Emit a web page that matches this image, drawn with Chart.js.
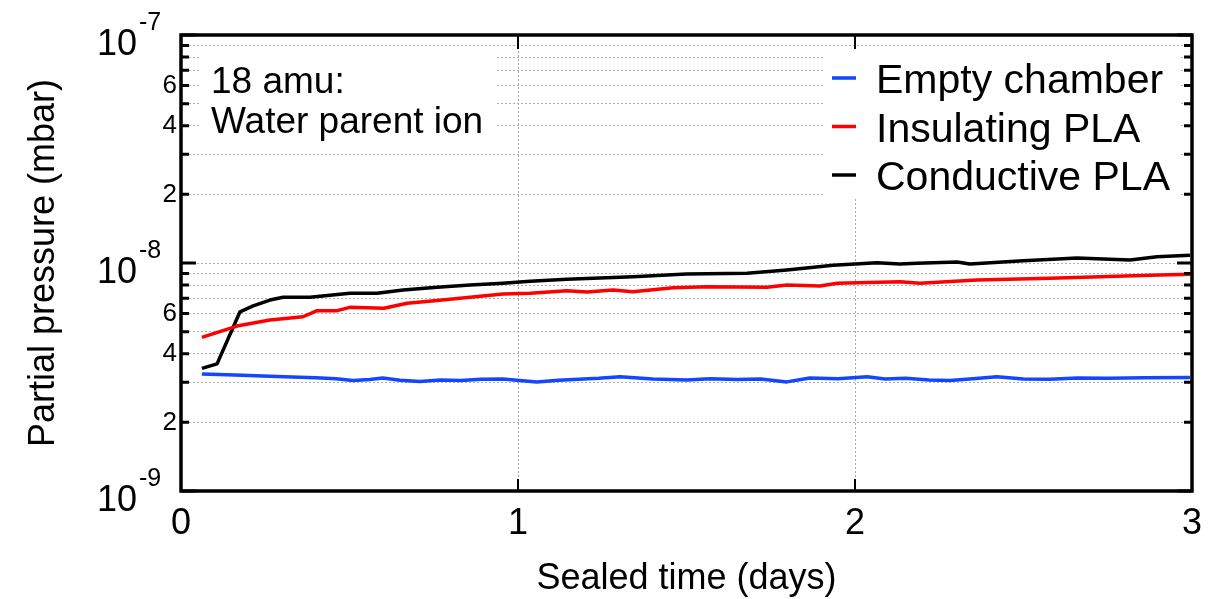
<!DOCTYPE html>
<html>
<head>
<meta charset="utf-8">
<script src="https://cdn.jsdelivr.net/npm/chart.js@4.4.1/dist/chart.umd.min.js"></script>
<style>
  html, body { margin: 0; padding: 0; background: #fff; }
  #wrap { width: 1230px; height: 599px; }
</style>
</head>
<body>
<div id="wrap"><canvas id="grafico"></canvas></div>
<script>
const FONT = '"Liberation Sans", Arial, Helvetica, sans-serif';

// pressures in units of 1e-9 mbar, time in days
const emptyDays = [0.062, 0.16, 0.264, 0.33, 0.40, 0.46, 0.510, 0.56, 0.599, 0.65, 0.709, 0.77, 0.83, 0.89, 0.955, 1.056, 1.12, 1.18, 1.24, 1.303, 1.40, 1.501, 1.57, 1.65, 1.72, 1.798, 1.866, 1.95, 2.036, 2.09, 2.15, 2.22, 2.282, 2.35, 2.421, 2.50, 2.579, 2.66, 2.75, 2.86, 2.994];
const emptyVals = [3.26, 3.23, 3.19, 3.16, 3.14, 3.11, 3.05, 3.08, 3.13, 3.06, 3.02, 3.07, 3.05, 3.09, 3.10, 3.01, 3.06, 3.09, 3.12, 3.17, 3.10, 3.07, 3.11, 3.08, 3.10, 3.01, 3.13, 3.11, 3.17, 3.10, 3.12, 3.07, 3.05, 3.11, 3.17, 3.10, 3.09, 3.13, 3.12, 3.14, 3.15];

const insulatingDays = [0.062, 0.166, 0.264, 0.362, 0.404, 0.463, 0.501, 0.602, 0.671, 0.760, 0.858, 0.955, 1.036, 1.145, 1.205, 1.282, 1.341, 1.460, 1.561, 1.739, 1.798, 1.896, 1.947, 2.134, 2.193, 2.362, 2.579, 2.875, 2.994];
const insulatingVals = [4.72, 5.29, 5.62, 5.81, 6.18, 6.18, 6.39, 6.33, 6.66, 6.84, 7.07, 7.31, 7.36, 7.56, 7.46, 7.61, 7.48, 7.79, 7.87, 7.82, 8.01, 7.93, 8.15, 8.28, 8.15, 8.42, 8.57, 8.83, 8.92];

const conductiveDays = [0.062, 0.107, 0.175, 0.214, 0.264, 0.303, 0.383, 0.501, 0.582, 0.659, 0.760, 0.858, 0.955, 1.036, 1.145, 1.341, 1.501, 1.680, 1.798, 1.935, 2.065, 2.134, 2.184, 2.303, 2.341, 2.499, 2.659, 2.816, 2.896, 2.994];
const conductiveVals = [3.45, 3.61, 6.11, 6.48, 6.88, 7.07, 7.07, 7.36, 7.36, 7.61, 7.82, 8.01, 8.15, 8.31, 8.48, 8.71, 8.95, 9.01, 9.32, 9.77, 10.03, 9.90, 9.97, 10.10, 9.90, 10.23, 10.52, 10.31, 10.66, 10.81];

const seriesNames = ['Empty chamber', 'Insulating PLA', 'Conductive PLA'];
const seriesColors = ['#1246ff', '#ff0000', '#000000'];

const xTicks = [0, 1, 2, 3];
const yDecades = [-9, -8, -7];
const yMinorMantissas = [2, 3, 4, 5, 6, 7, 8, 9];
const yLabeledMantissas = [2, 4, 6];
const annotationLines = ['18 amu:', 'Water parent ion'];

function toPoints(days, vals) {
    return days.map((d, i) => ({ x: d, y: vals[i] * 1e-9 }));
}

function yTickValues() {
    const out = [];
    yDecades.forEach(e => {
        out.push(Math.pow(10, e));
        if (e < -7) yMinorMantissas.forEach(m => out.push(m * Math.pow(10, e)));
    });
    return out.sort((a, b) => a - b);
}

function mantissa(v) {
    const e = Math.floor(Math.log10(v) + 1e-9);
    return Math.round(v / Math.pow(10, e));
}

const decorations = {
    id: 'decorations',
    beforeDatasetsDraw(chart) {
        const ctx = chart.ctx;
        ctx.save();
        ctx.fillStyle = '#fff';
        ctx.fillRect(199, 50, 297, 100);   // annotation box
        ctx.fillRect(825, 50, 355, 147);   // legend box
        ctx.restore();
    },
    afterDraw(chart) {
        const ctx = chart.ctx;
        const a = chart.chartArea;
        const xs = chart.scales.x, ys = chart.scales.y;
        ctx.save();

        // frame
        ctx.strokeStyle = '#000';
        ctx.lineWidth = 3.5;
        ctx.strokeRect(a.left, a.top, a.right - a.left, a.bottom - a.top);

        // inward ticks
        ctx.lineWidth = 3;
        ys.ticks.forEach(t => {
            const y = ys.getPixelForValue(t.value);
            const len = mantissa(t.value) === 1 ? 15 : 8;
            ctx.beginPath();
            ctx.moveTo(a.left, y); ctx.lineTo(a.left + len, y);
            ctx.moveTo(a.right, y); ctx.lineTo(a.right - len, y);
            ctx.stroke();
        });
        ctx.lineWidth = 2;
        xTicks.slice(1, -1).forEach(v => {
            const x = xs.getPixelForValue(v);
            ctx.beginPath();
            ctx.moveTo(x, a.bottom); ctx.lineTo(x, a.bottom - 12);
            ctx.moveTo(x, a.top); ctx.lineTo(x, a.top + 14);
            ctx.stroke();
        });

        // decade labels 10^n
        ctx.fillStyle = '#000';
        yDecades.forEach(e => {
            const y = ys.getPixelForValue(Math.pow(10, e));
            ctx.font = '36px ' + FONT;
            ctx.textAlign = 'right';
            ctx.textBaseline = 'alphabetic';
            ctx.fillText('10', 137, y + 20);
            ctx.font = '25px ' + FONT;
            ctx.textAlign = 'left';
            ctx.fillText(String(e), 139, y - 5);
        });

        // annotation
        ctx.font = '37px ' + FONT;
        ctx.textAlign = 'left';
        ctx.fillText(annotationLines[0], 211, 93);
        ctx.fillText(annotationLines[1], 211, 133);

        // legend
        ctx.font = '41px ' + FONT;
        chart.data.datasets.forEach((ds, i) => {
            const y = 78 + i * 48.5;
            ctx.strokeStyle = ds.borderColor;
            ctx.lineWidth = 3.5;
            ctx.beginPath();
            ctx.moveTo(832, y); ctx.lineTo(856, y);
            ctx.stroke();
            ctx.fillStyle = '#000';
            ctx.fillText(ds.label, 876, y + 15);
        });
        ctx.restore();
    }
};

const ctx = document.getElementById('grafico').getContext('2d');
new Chart(ctx, {
    type: 'line',
    data: {
        datasets: [
            { label: seriesNames[0], data: toPoints(emptyDays, emptyVals), borderColor: seriesColors[0] },
            { label: seriesNames[1], data: toPoints(insulatingDays, insulatingVals), borderColor: seriesColors[1] },
            { label: seriesNames[2], data: toPoints(conductiveDays, conductiveVals), borderColor: seriesColors[2] }
        ]
    },
    options: {
        responsive: true,
        maintainAspectRatio: false,
        animation: false,
        layout: { padding: { left: 0, right: 38, top: 35, bottom: 0 } },
        elements: {
            point: { radius: 0 },
            line: { borderWidth: 3.5, tension: 0, borderJoinStyle: 'round' }
        },
        plugins: {
            legend: { display: false },
            tooltip: { enabled: false }
        },
        scales: {
            x: {
                type: 'linear',
                min: 0,
                max: 3,
                afterBuildTicks: s => { s.ticks = xTicks.map(v => ({ value: v })); },
                afterFit: s => { s.height = 108; },
                ticks: {
                    color: '#000',
                    font: { family: FONT, size: 36 },
                    padding: 11,
                    maxRotation: 0
                },
                grid: { color: '#a8a8a8', lineWidth: 1, drawTicks: false },
                border: { display: false, dash: [2, 2] },
                title: {
                    display: true,
                    text: 'Sealed time (days)',
                    color: '#000',
                    font: { family: FONT, size: 36 },
                    padding: { top: 0, bottom: -2 }
                }
            },
            y: {
                type: 'logarithmic',
                min: 1e-9,
                max: 1e-7,
                afterBuildTicks: s => { s.ticks = yTickValues().map(v => ({ value: v })); },
                afterFit: s => { s.width = 181; },
                ticks: {
                    color: '#000',
                    font: { family: FONT, size: 26 },
                    padding: 4,
                    autoSkip: false,
                    callback: function(value) {
                        const m = mantissa(value);
                        return yLabeledMantissas.includes(m) ? String(m) : '';
                    }
                },
                grid: { color: '#b0b0b0', lineWidth: 1, drawTicks: false },
                border: { display: false, dash: [2, 2] },
                title: {
                    display: true,
                    text: 'Partial pressure (mbar)',
                    color: '#000',
                    font: { family: FONT, size: 36 },
                    padding: { top: 22, bottom: 0 }
                }
            }
        }
    },
    plugins: [decorations]
});
</script>
</body>
</html>
